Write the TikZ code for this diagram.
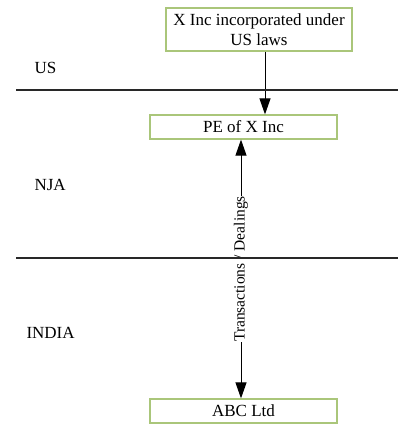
\documentclass[tikz,border=0pt]{standalone}
\usepackage{fontspec}
\setmainfont{Liberation Serif}
\usetikzlibrary{arrows.meta}
\definecolor{boxgreen}{RGB}{170,198,122}
\definecolor{linegray}{RGB}{40,40,40}
\begin{document}
\begin{tikzpicture}[x=1pt,y=-1pt,
  entity/.style={draw=boxgreen,line width=1.2pt,fill=white,inner sep=0pt,font=\fontsize{17}{20.5}\selectfont,align=center},
  border/.style={draw=linegray,line width=1.2pt},
  flow/.style={draw=black,line width=1pt,-{Triangle[length=16pt,width=11pt]}},
  region/.style={font=\fontsize{17}{20}\selectfont,anchor=west}]
\useasboundingbox (0,0) rectangle (413,424);
% region labels
\node[region] (us) at (31,68) {US};
\node[region] (nja) at (31,185) {NJA};
\node[region] (india) at (23,333) {INDIA};
% entities
\node[entity,minimum width=186pt,minimum height=43pt] (xinc) at (259,29.5) {X Inc incorporated under\\US laws};
\node[entity,minimum width=187pt,minimum height=24pt] (pe) at (243.5,127) {PE of X Inc};
\node[entity,minimum width=187pt,minimum height=24pt] (abc) at (243.5,411) {ABC Ltd};
% connectors
\draw[flow] (xinc.south -| 265,0) -- (pe.north -| 265,0);
\draw[flow,{Triangle[length=16pt,width=11pt]}-{Triangle[length=16pt,width=11pt]}] (pe.south -| 241,0) -- node[sloped,rotate=180,fill=white,inner sep=0.5pt,font=\fontsize{15.5}{18}\selectfont]{Transactions / Dealings} (abc.north -| 241,0);
% jurisdiction borders
\coordinate (b1l) at (16,90);  \coordinate (b1r) at (398,90);
\coordinate (b2l) at (16,258); \coordinate (b2r) at (398,258);
\draw[border] (b1l) -- (b1r);
\draw[border] (b2l) -- (b2r);
\end{tikzpicture}
\end{document}
